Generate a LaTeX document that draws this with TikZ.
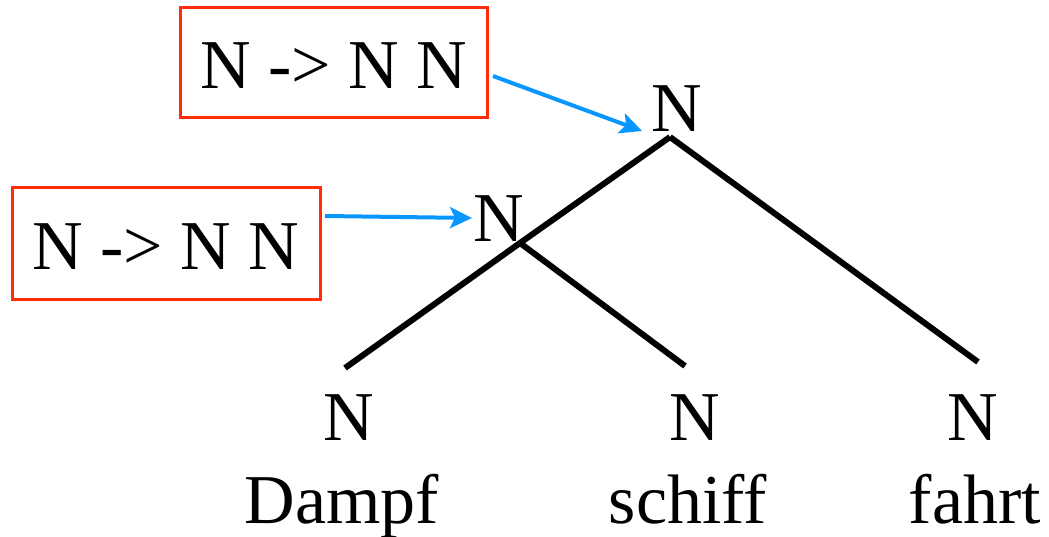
\documentclass[tikz,border=0pt]{standalone}
\usepackage{fontspec}
\setmainfont{Liberation Serif}
\usetikzlibrary{arrows.meta}
\definecolor{boxred}{RGB}{255,45,10}
\definecolor{arrblue}{RGB}{10,150,255}
\tikzset{
  big/.style={font=\fontsize{70}{84}\selectfont, inner sep=0pt},
  rulebox/.style={big, draw=boxred, line width=3pt, text height=52pt, text depth=0pt},
  cat/.style={big, anchor=base},
  edge/.style={line width=6pt},
  pointer/.style={draw=arrblue, line width=4pt, -{Stealth[length=22pt,width=21pt,inset=5pt]}}
}
\begin{document}
\begin{tikzpicture}[x=1pt,y=-1pt]
\useasboundingbox (0,0) rectangle (1049,537);
% rule boxes
\node[rulebox, minimum width=307pt, minimum height=110pt] (r1) at (333.5,63) {N -> N N};
\node[rulebox, minimum width=308pt, minimum height=111pt] (r2) at (166,243.5) {N -> N N};
% tree labels
\node[cat] (ntop) at (677,132) {N};
\node[cat] (nmid) at (499,242) {N};
\node[cat] (n1) at (349,440) {N};
\node[cat] (n2) at (695,440) {N};
\node[cat] (n3) at (973,440) {N};
\node[cat] (w1) at (342,523) {Dampf};
\node[cat] (w2) at (688,523) {schiff};
\node[cat] (w3) at (975,523) {fahrt};
% branch points
\coordinate (apex) at (670,137);
\coordinate (junc) at (520,243);
\coordinate (leafa) at (345,368);
\coordinate (leafb) at (685,366);
\coordinate (leafc) at (978,362);
\draw[edge] (apex) -- (junc);
\draw[edge] (junc) -- (leafa);
\draw[edge] (junc) -- (leafb);
\draw[edge] (apex) -- (leafc);
% pointers
\coordinate (p1s) at (493,76);
\coordinate (p1e) at (642,131);
\coordinate (p2s) at (325,216);
\coordinate (p2e) at (472,218);
\draw[pointer] (p1s) -- (p1e);
\draw[pointer] (p2s) -- (p2e);
\end{tikzpicture}
\end{document}
